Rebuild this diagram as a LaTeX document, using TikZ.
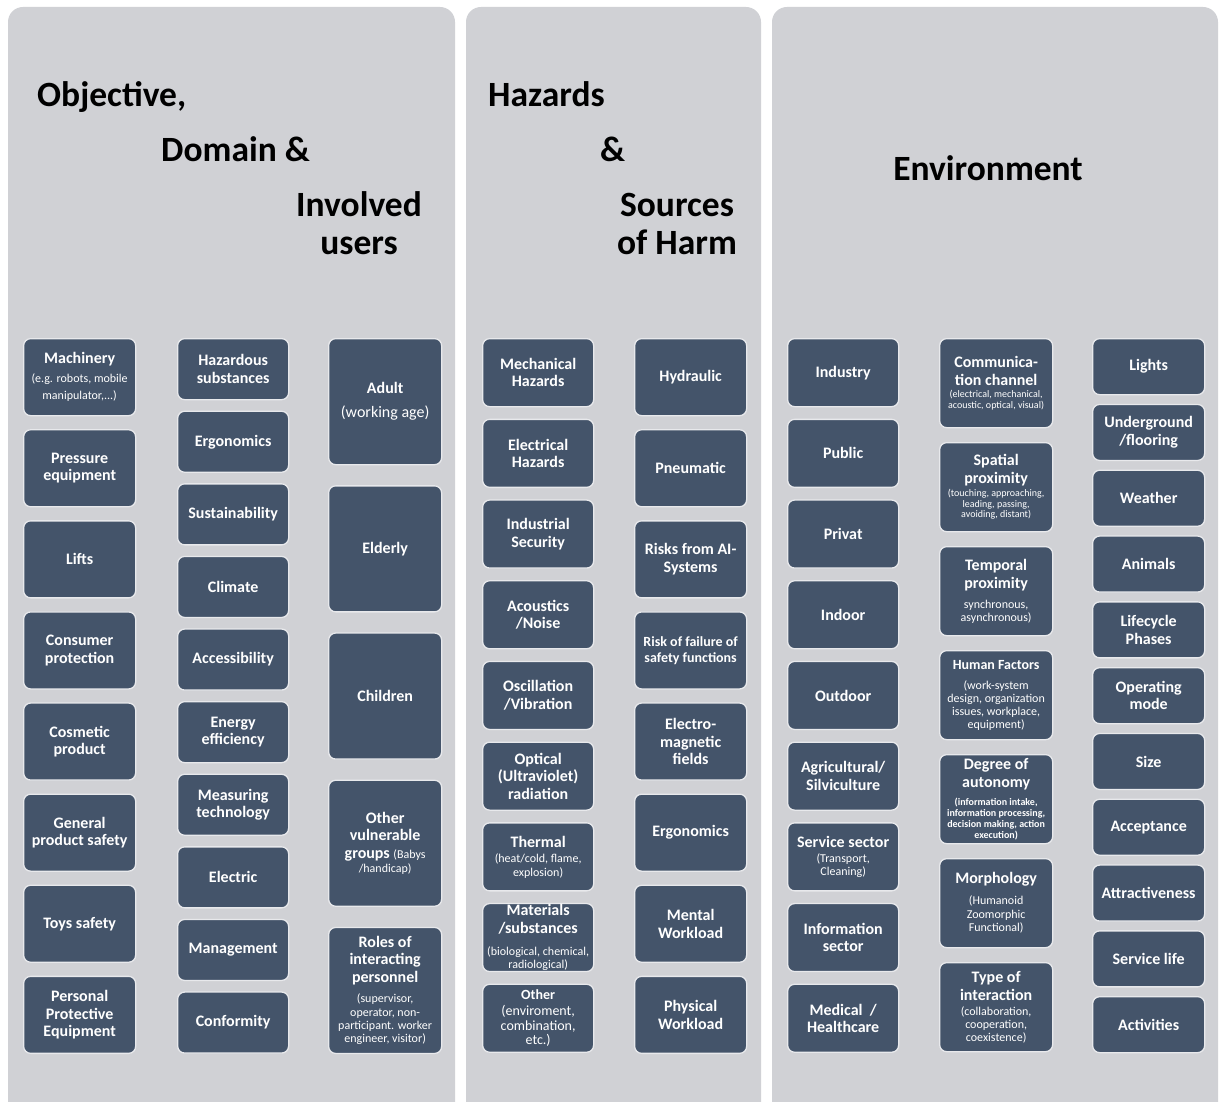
\documentclass[tikz,border=0pt]{standalone}
\usepackage{fontspec}
\setmainfont{Carlito}
\definecolor{panelgray}{RGB}{208,209,213}
\definecolor{boxfill}{RGB}{68,84,106}
\definecolor{boxedge}{RGB}{232,233,236}
% font size helper: size, baselineskip
\newcommand\fz[2]{\fontsize{#1}{#2}\selectfont}
% paragraph end usable inside \foreach lists
\newcommand\pe{\endgraf}
\tikzset{
  x=1pt, y=-1pt,
  panel/.style={fill=panelgray, rounded corners=15pt},
  title/.style={font=\fz{35.5}{42}\bfseries, text=black, inner sep=0pt, anchor=base west},
  box/.style={draw=boxedge, line width=1.3pt, fill=boxfill, rounded corners=7pt,
    text=white, align=flush center, inner sep=0pt, anchor=north west,
    font=\fz{16}{17.5}\bfseries},
  bwide/.style={box, minimum width=112pt, minimum height=77pt, text width=110pt},
  bshort/.style={box, minimum width=111pt, minimum height=61pt, text width=110pt},
  btall/.style={box, minimum width=113pt, minimum height=126pt, text width=111pt},
  bmid/.style={box, minimum width=111pt, minimum height=68pt, text width=110pt},
  bdeep/.style={box, minimum width=113pt, minimum height=89pt, text width=111pt},
  bflat/.style={box, minimum width=112pt, minimum height=56pt, text width=110pt}
}
\begin{document}
\begin{tikzpicture}
\useasboundingbox (0,0) rectangle (1219,1102);
\clip (0,0) rectangle (1219,1102);
\fill[white] (0,0) rectangle (1219,1102);

% three column panels
\fill[panel] (8,7) rectangle (455,1130);
\fill[panel] (466,7) rectangle (761,1130);
\fill[panel] (772,7) rectangle (1218,1130);

% panel headings
\node[title] (h1a) at (37,107) {Objective,};
\node[title] (h1b) at (161,162) {Domain \&};
\node[title, anchor=base] (h1c) at (359,217) {Involved};
\node[title, anchor=base] (h1d) at (359,255) {users};
\node[title] (h2a) at (488,107) {Hazards};
\node[title] (h2b) at (600,162) {\&};
\node[title, anchor=base] (h2c) at (677,217) {Sources};
\node[title, anchor=base] (h2d) at (677,255) {of Harm};
\node[title, anchor=base] (h3a) at (988,181) {Environment};

% Objective / domain
\foreach \t [count=\i from 0] in {
  {Machinery\pe\vspace{2pt}{\fz{12}{17}\mdseries (e.g. robots, mobile\\manipulator,...)\pe}},
  {Pressure\\equipment},
  {Lifts},
  {Consumer\\protection},
  {Cosmetic\\product},
  {General\\product safety},
  {Toys safety},
  {Personal\\Protective\\Equipment}}
  \node[bwide] (dom-\i) at (23,{338+\i*91.1}) {\t};

\foreach \t [count=\i from 0] in {
  {Hazardous\\substances},
  {Ergonomics},
  {Sustainability},
  {Climate},
  {Accessibility},
  {Energy\\efficiency},
  {Measuring\\technology},
  {Electric},
  {Management},
  {Conformity}}
  \node[bshort] (obj-\i) at (177,{338+\i*72.6}) {\t};

\foreach \t [count=\i from 0] in {
  {Adult\pe\vspace{6pt}{\fz{16}{18}\mdseries (working age)\pe}},
  {Elderly},
  {Children},
  {Other\\vulnerable\\groups {\fz{12}{14}\mdseries (Babys}\\[-3.5pt]{\fz{12}{14}\mdseries /handicap)}},
  {Roles of\\interacting\\personnel\pe\vspace{7.5pt}{\fz{12}{13.3}\mdseries (supervisor,\\operator, non-\\participant. worker\\engineer, visitor)\pe}}}
  \node[btall] (usr-\i) at (328,{338+\i*147.2}) {\t};

% Hazards and sources of harm
\foreach \t [count=\i from 0] in {
  {Mechanical\\Hazards},
  {Electrical\\Hazards},
  {Industrial\\Security},
  {Acoustics\\/Noise},
  {Oscillation\\/Vibration},
  {Optical\\(Ultraviolet)\\radiation},
  {Thermal\pe\vspace{1pt}{\fz{12}{14}\mdseries (heat/cold, flame,\\explosion)\pe}},
  {Materials\\/substances\pe\vspace{9pt}{\fz{12}{13}\mdseries (biological, chemical,\\radiological)\pe}},
  {{\fz{14}{15}Other}\pe\vspace{1.3pt}{\fz{14}{14.7}\mdseries (enviroment,\\combination,\\etc.)\pe}}}
  \node[bmid] (haz-\i) at (482,{338+\i*80.7}) {\t};

\foreach \t [count=\i from 0] in {
  {Hydraulic},
  {Pneumatic},
  {Risks from AI-\\Systems},
  {\fz{14}{15.5}Risk of failure of\\safety functions\pe},
  {Electro-\\magnetic\\fields},
  {Ergonomics},
  {Mental\\Workload},
  {Physical\\Workload}}
  \node[bwide] (src-\i) at (634,{338+\i*91.1}) {\t};

% Environment
\foreach \t [count=\i from 0] in {
  {Industry},
  {Public},
  {Privat},
  {Indoor},
  {Outdoor},
  {Agricultural/\\Silviculture},
  {Service sector\pe\vspace{2.5pt}{\fz{12}{12.5}\mdseries (Transport,\\Cleaning)\pe}},
  {Information\\sector},
  {Medical~~/\\Healthcare}}
  \node[bmid] (env-\i) at (787,{338+\i*80.7}) {\t};

\foreach \t [count=\i from 0] in {
  {Communica-\\tion channel\pe\vspace{1pt}{\fz{10}{11}\mdseries (electrical, mechanical,\\acoustic, optical, visual)\pe}},
  {Spatial\\proximity\pe\vspace{2.3pt}{\fz{10}{10.7}\mdseries (touching, approaching,\\leading, passing,\\avoiding, distant)\pe}},
  {Temporal\\proximity\pe\vspace{7pt}{\fz{12}{13}\mdseries synchronous,\\asynchronous)\pe}},
  {{\fz{14}{15}Human Factors}\pe\vspace{7pt}{\fz{12}{13}\mdseries (work-system\\design, organization\\issues, workplace,\\equipment)\pe}},
  {Degree of\\autonomy\pe\vspace{8pt}{\fz{10}{10.8}(information intake,\\information processing,\\decision making, action\\execution)\pe}},
  {Morphology\pe\vspace{7.5pt}{\fz{12}{13.5}\mdseries (Humanoid\\Zoomorphic\\Functional)\pe}},
  {Type of\\interaction\pe\vspace{2pt}{\fz{12}{13}\mdseries (collaboration,\\cooperation,\\coexistence)\pe}}}
  \node[bdeep] (itx-\i) at (939,{338+\i*104}) {\t};

\foreach \t [count=\i from 0] in {
  {Lights},
  {Underground\\/flooring},
  {Weather},
  {Animals},
  {Lifecycle\\Phases},
  {Operating\\mode},
  {Size},
  {Acceptance},
  {Attractiveness},
  {Service life},
  {Activities}}
  \node[bflat] (cnd-\i) at (1092,{338+\i*65.8}) {\t};
\end{tikzpicture}
\end{document}
